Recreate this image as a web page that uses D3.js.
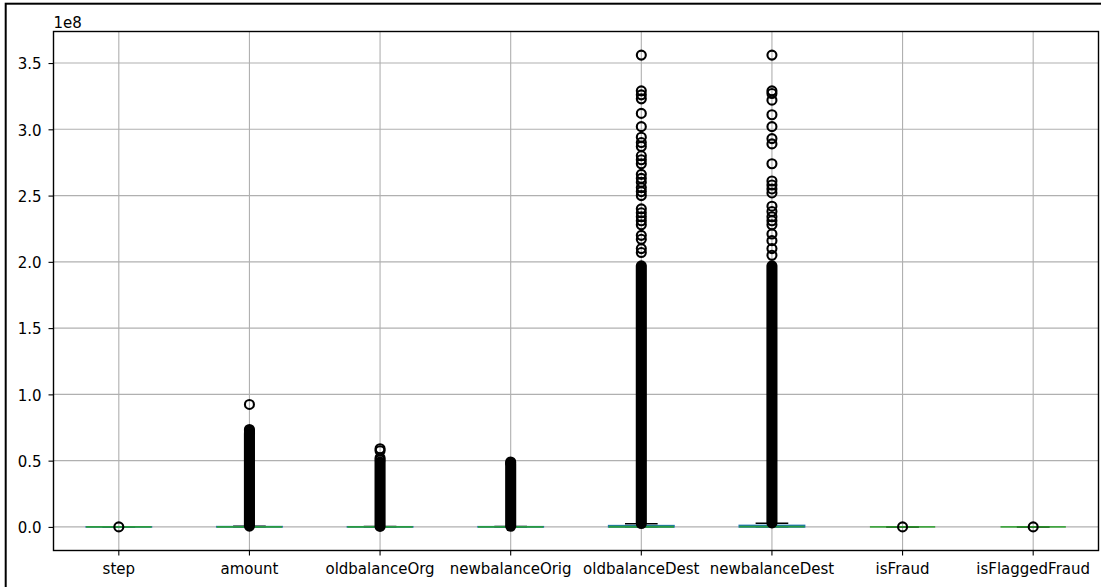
<!DOCTYPE html>
<html><head><meta charset="utf-8">
<script src="https://cdn.jsdelivr.net/npm/d3@7"></script>
<style>
body{margin:0;background:#fff}
svg{display:block}
text{font-family:"DejaVu Sans",sans-serif}
</style>
</head><body>
<svg id="c" width="1101" height="587"></svg>
<script>
// ---- data (values in units of 1e8, as the axis shows) ----
const categories = ["step","amount","oldbalanceOrg","newbalanceOrig","oldbalanceDest","newbalanceDest","isFraud","isFlaggedFraud"];
const q1Values      = [0.00000156, 0.000133896, 0, 0, 0, 0, 0, 0];
const medianValues  = [0.00000239, 0.000748719, 0.00014208, 0, 0.00132706, 0.00214661, 0, 0];
const q3Values      = [0.00000335, 0.00208721, 0.00107315, 0.00144258, 0.00943037, 0.0111191, 0, 0];
const whiskerLow    = [0.00000001, 0, 0, 0, 0, 0, 0, 0];
const whiskerHigh   = [0.00000603, 0.00501719, 0.00268288, 0.00360646, 0.0235739, 0.0277977, 0, 0];
// individually visible outliers
const sparseOutliers = [
  [0.0000074],
  [0.924, 0.735, 0.725, 0.715],
  [0.59, 0.575, 0.52, 0.505],
  [0.49, 0.48],
  [3.56, 3.29, 3.26, 3.23, 3.12, 3.02, 2.94, 2.90, 2.87, 2.80, 2.77, 2.74, 2.66, 2.63, 2.60, 2.56, 2.53, 2.50, 2.40, 2.37, 2.34, 2.31, 2.28, 2.20, 2.17, 2.10, 2.07],
  [3.56, 3.29, 3.27, 3.22, 3.11, 3.02, 2.93, 2.89, 2.74, 2.61, 2.58, 2.55, 2.52, 2.42, 2.38, 2.34, 2.31, 2.28, 2.21, 2.16, 2.10, 2.05],
  [0.00000001],
  [0.00000001]
];
// ranges where outliers overlap into a solid column [low, high]
const denseOutlierLow  = [null, 0.006, 0.004, 0.005, 0.026, 0.030, null, null];
const denseOutlierHigh = [null, 0.705, 0.49, 0.47, 1.97, 1.97, null, null];
const yTicks = [0, 0.5, 1.0, 1.5, 2.0, 2.5, 3.0, 3.5];
const exponentLabel = "1e8";

// ---- layout ----
const svg = d3.select("#c");
const L = 53.5, R = 1098.5, T = 31.5, B = 550.5;
const fs = 15;
const boxColor = "#1f77b4", medColor = "#2ca02c", capColor = "#000";
const flierR = 4.5, flierW = 2.1;

const allVals = sparseOutliers.flat().concat(denseOutlierHigh.filter(v => v != null), whiskerHigh);
const yMax = d3.max(allVals), yMin = d3.min(whiskerLow.concat(q1Values));
const pad = (yMax - yMin) * 0.05;
const x = d3.scaleBand().domain(categories).range([L, R]).padding(0);
const y = d3.scaleLinear().domain([yMin - pad, yMax + pad]).range([B, T]);
const cx = c => x(c) + x.bandwidth() / 2;
const bw = x.bandwidth() * 0.5, cw = x.bandwidth() * 0.25;

// figure frame (outer border)
svg.append("rect").attr("x", 5.7).attr("y", 3.7).attr("width", 1300).attr("height", 800)
  .attr("fill", "none").attr("stroke", "#000").attr("stroke-width", 2);

// grid
const grid = svg.append("g");
grid.selectAll("line.h").data(yTicks).join("line")
  .attr("x1", L).attr("x2", R).attr("y1", d => y(d)).attr("y2", d => y(d))
  .attr("stroke", "#b0b0b0").attr("stroke-width", 1.1);
grid.selectAll("line.v").data(categories).join("line")
  .attr("y1", T).attr("y2", B).attr("x1", d => cx(d)).attr("x2", d => cx(d))
  .attr("stroke", "#b0b0b0").attr("stroke-width", 1.1);

// boxes
const g = svg.append("g");
categories.forEach((c, i) => {
  const xc = cx(c);
  const gb = g.append("g");
  // whiskers
  gb.append("line").attr("x1", xc).attr("x2", xc).attr("y1", y(q1Values[i])).attr("y2", y(whiskerLow[i]))
    .attr("stroke", boxColor).attr("stroke-width", 1.4);
  gb.append("line").attr("x1", xc).attr("x2", xc).attr("y1", y(q3Values[i])).attr("y2", y(whiskerHigh[i]))
    .attr("stroke", boxColor).attr("stroke-width", 1.4);
  // caps
  [whiskerLow[i], whiskerHigh[i]].forEach(v => {
    gb.append("line").attr("x1", xc - cw / 2).attr("x2", xc + cw / 2).attr("y1", y(v)).attr("y2", y(v))
      .attr("stroke", capColor).attr("stroke-width", 1.4);
  });
  // box
  gb.append("rect").attr("x", xc - bw / 2).attr("width", bw)
    .attr("y", y(q3Values[i])).attr("height", Math.max(0, y(q1Values[i]) - y(q3Values[i])))
    .attr("fill", "none").attr("stroke", boxColor).attr("stroke-width", 1.6);
  // median
  gb.append("line").attr("x1", xc - bw / 2).attr("x2", xc + bw / 2)
    .attr("y1", y(medianValues[i])).attr("y2", y(medianValues[i]))
    .attr("stroke", medColor).attr("stroke-width", 1.8).attr("stroke-opacity", 0.85);
  // dense outlier column
  if (denseOutlierLow[i] != null) {
    gb.append("line").attr("x1", xc).attr("x2", xc)
      .attr("y1", y(denseOutlierLow[i])).attr("y2", y(denseOutlierHigh[i]))
      .attr("stroke", "#000").attr("stroke-width", 2 * flierR + flierW).attr("stroke-linecap", "round");
  }
  // outliers
  gb.selectAll("circle").data(sparseOutliers[i]).join("circle")
    .attr("cx", xc).attr("cy", d => y(d)).attr("r", flierR)
    .attr("fill", "none").attr("stroke", "#000").attr("stroke-width", flierW);
});

// axes
const yAxis = svg.append("g").attr("transform", `translate(${L},0)`)
  .call(d3.axisLeft(y).tickValues(yTicks).tickFormat(d => d.toFixed(1)).tickSize(5).tickPadding(7));
const xAxis = svg.append("g").attr("transform", `translate(0,${B})`)
  .call(d3.axisBottom(x).tickSize(5).tickPadding(8));
[yAxis, xAxis].forEach(a => {
  a.select(".domain").remove();
  a.selectAll(".tick line").attr("stroke", "#000").attr("stroke-width", 1.1);
  a.selectAll("text").attr("font-size", fs).attr("fill", "#000").attr("font-family", "DejaVu Sans");
});
yAxis.selectAll("text").attr("dy", "0.38em");

// spines
svg.append("rect").attr("x", L).attr("y", T).attr("width", R - L).attr("height", B - T)
  .attr("fill", "none").attr("stroke", "#000").attr("stroke-width", 1.4);

// offset label
svg.append("text").attr("x", L).attr("y", 27.5).attr("font-size", fs).text(exponentLabel);
</script>
</body></html>
